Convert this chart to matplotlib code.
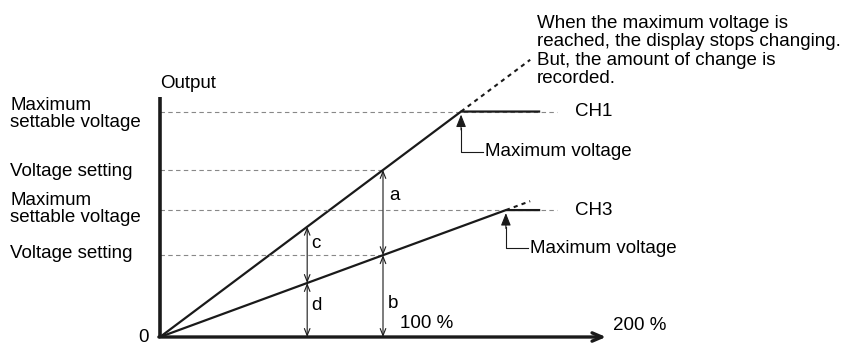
import numpy as np
import matplotlib.pyplot as plt

plt.rcParams['font.family'] = ['Liberation Sans', 'DejaVu Sans']

# input level in % and output levels (arbitrary units)
x_ticks = [100, 200]
tick_labels = ['100 %', '200 %']
ch_names = ['CH1', 'CH3']
v_setting = [5.0, 2.45]
v_max = [6.75, 3.8]
x_flat_end = 170
x_guide_end = 178
x_over_end = 166
x_cd = 66

# pixel -> data helpers (figure is 864x345, axes fills it)
X0, XS = 160, 2.23
Y0, YS = 337, 33.4


def px(x, y):
    return (x - X0) / XS, (Y0 - y) / YS


fig = plt.figure(figsize=(8.64, 3.45), dpi=100)
ax = fig.add_axes([0, 0, 1, 1])
ax.set_xlim(px(0, 0)[0], px(864, 0)[0])
ax.set_ylim(px(0, 345)[1], px(0, 0)[1])
ax.axis('off')

fs = 13.5
ink = '#1a1a1a'
guide = dict(color='#888888', lw=0.8, dashes=(4, 3))

for name, vs, vm in zip(ch_names, v_setting, v_max):
    knee = 100 * vm / vs
    # dashed guide lines
    ax.plot([0, x_guide_end], [vm, vm], **guide)
    ax.plot([0, 100], [vs, vs], **guide)
    # response line
    ax.plot([0, knee, x_flat_end], [0, vm, vm], color=ink, lw=1.6,
            solid_joinstyle='miter')
    # what it would be without clipping
    ax.plot([knee, x_over_end], [vm, vs * x_over_end / 100], color=ink,
            lw=1.5, dashes=(2, 2))
    ax.text(x_guide_end + 8, vm, name, fontsize=fs, va='center', ha='left')

# "Maximum voltage" markers
k1 = 100 * v_max[0] / v_setting[0]
k3 = 100 * v_max[1] / v_setting[1]
for k, vm, drop, run in [(k1, v_max[0], 1.2, 10), (k3, v_max[1], 1.14, 10)]:
    ax.plot([k, k, k + run], [vm - 0.5, vm - drop, vm - drop],
            color=ink, lw=0.8)
    ax.annotate('', xy=(k, vm - 0.09), xytext=(k, vm - 0.55),
                arrowprops=dict(arrowstyle='-|>,head_length=0.75,head_width=0.3',
                                color=ink, lw=0.8, shrinkA=0, shrinkB=0))
    ax.text(k + run + 0.9, vm - drop, 'Maximum voltage', fontsize=fs,
            va='center', ha='left')

# double arrows a, b, c, d
dbl = dict(arrowstyle='<->,head_length=0.5,head_width=0.2', color=ink,
           lw=0.8, shrinkA=0, shrinkB=0)
y_c1 = v_setting[0] * x_cd / 100
y_c3 = v_setting[1] * x_cd / 100
ax.annotate('', xy=(100, v_setting[0]), xytext=(100, v_setting[1]), arrowprops=dbl)
ax.annotate('', xy=(100, v_setting[1]), xytext=(100, 0), arrowprops=dbl)
ax.annotate('', xy=(x_cd, y_c1), xytext=(x_cd, y_c3), arrowprops=dbl)
ax.annotate('', xy=(x_cd, y_c3), xytext=(x_cd, 0), arrowprops=dbl)
ax.text(*px(389, 196), 'a', fontsize=fs, va='center', ha='left')
ax.text(*px(388, 304), 'b', fontsize=fs, va='center', ha='left')
ax.text(*px(311, 243), 'c', fontsize=fs, va='center', ha='left')
ax.text(*px(311, 305), 'd', fontsize=fs, va='center', ha='left')

# axes
ax.plot([0, 0], [0, px(0, 97)[1]], color=ink, lw=2.6, solid_capstyle='butt')
ax.annotate('', xy=(x_ticks[1], 0), xytext=(-0.5, 0),
            arrowprops=dict(arrowstyle='->,head_length=0.7,head_width=0.3',
                            color=ink, lw=2.4, shrinkA=0, shrinkB=0))
ax.text(*px(138, 337), '0', fontsize=fs, va='center', ha='left')
ax.text(*px(400, 324), tick_labels[0], fontsize=fs, va='center', ha='left')
ax.text(*px(613, 326), tick_labels[1], fontsize=fs, va='center', ha='left')
ax.text(*px(160, 83), 'Output', fontsize=fs, va='center', ha='left')

# left labels
ax.text(*px(10, 114), 'Maximum\nsettable voltage', fontsize=fs, va='center',
        ha='left', linespacing=1.02)
ax.text(*px(10, 172), 'Voltage setting', fontsize=fs, va='center', ha='left')
ax.text(*px(10, 209), 'Maximum\nsettable voltage', fontsize=fs, va='center',
        ha='left', linespacing=1.02)
ax.text(*px(10, 253), 'Voltage setting', fontsize=fs, va='center', ha='left')

# note on overflow
ax.text(*px(537, 51), 'When the maximum voltage is\nreached, the display stops changing.\n'
        'But, the amount of change is\nrecorded.', fontsize=fs, va='center',
        ha='left', linespacing=1.1)

fig.savefig('out.png', dpi=100)
